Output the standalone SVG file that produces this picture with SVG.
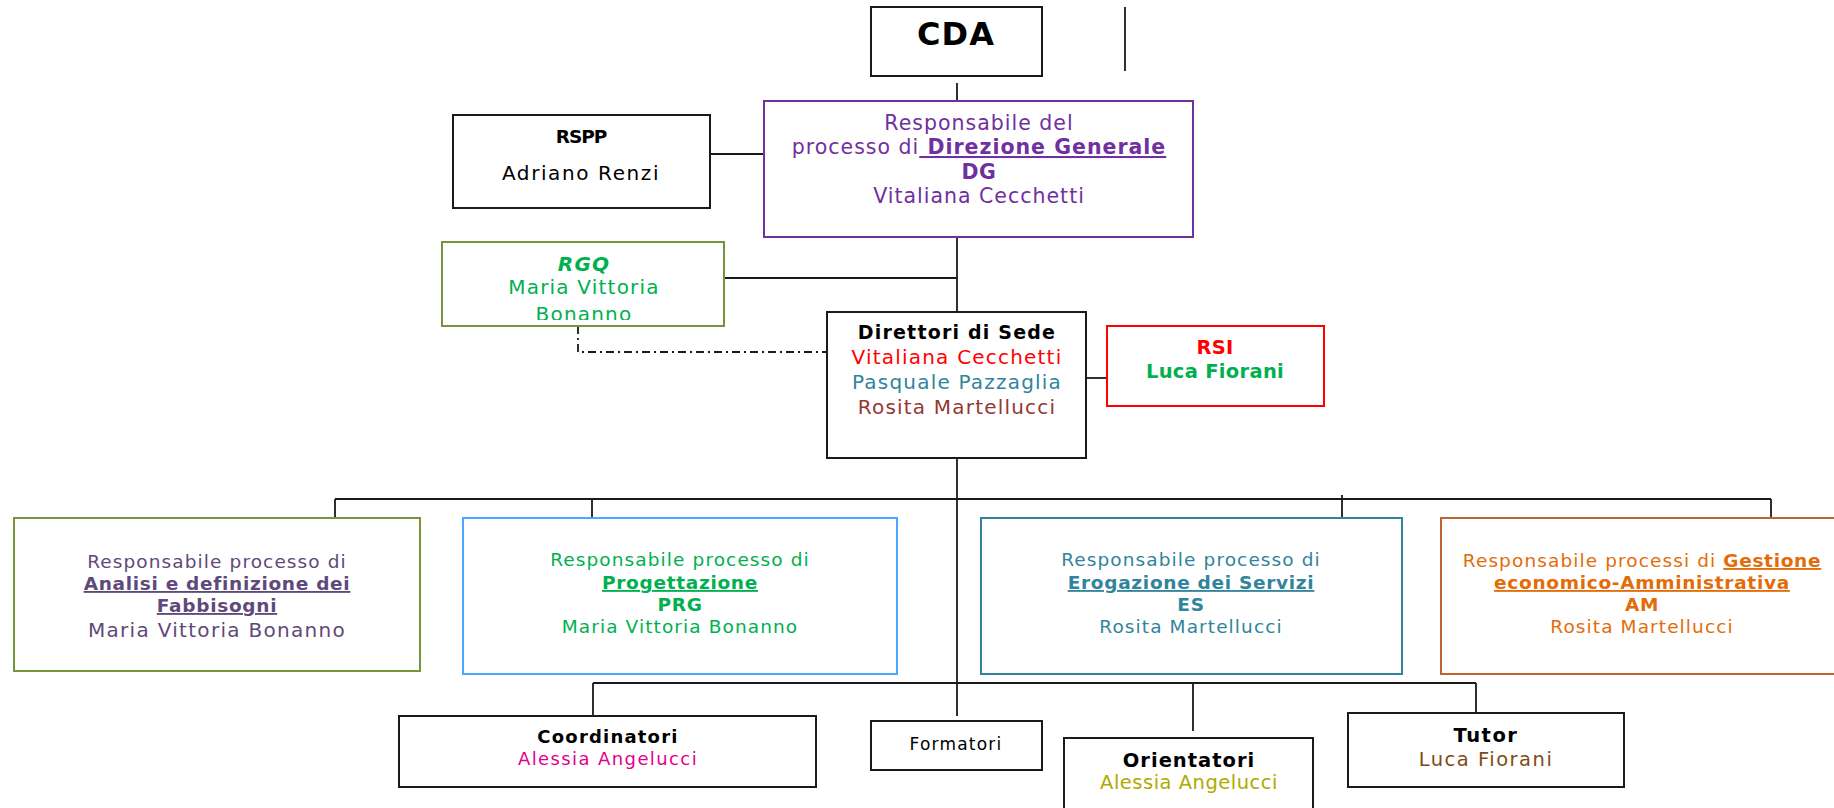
<svg xmlns="http://www.w3.org/2000/svg" width="1834" height="808" viewBox="0 0 1834 808">
<style>
text{font-family:"DejaVu Sans","Liberation Sans",sans-serif;text-anchor:middle;}
.box{fill:#fff;stroke:#1a1a1a;stroke-width:2;}
.r{font-size:18.5px;letter-spacing:1.1px;}
.b{font-weight:bold;letter-spacing:0.7px;}
.u{text-decoration:underline;}
.con{fill:none;stroke:#1a1a1a;stroke-width:1.8;}
</style>
<defs>
<clipPath id="rgqclip"><rect x="442" y="242" width="282" height="78"/></clipPath>
</defs>
<g id="connectors">
<path class="con" d="M957,83V101"/>
<path class="con" d="M1125,7V71"/>
<path class="con" d="M710,154H764"/>
<path class="con" d="M957,236V312"/>
<path class="con" d="M724,278H957"/>
<path class="con" d="M578,326V352H827" stroke-dasharray="8 4 2 4" stroke-width="1.6"/>
<path class="con" d="M1086,378H1107"/>
<path class="con" d="M957,458V716"/>
<path class="con" d="M335,499H1771M335,499V518M592,499V518M1342,495V518M1771,499V518"/>
<path class="con" d="M593,683H1476M593,683V716M1193,683V731M1476,683V716"/>
</g>
<g id="cda">
<rect class="box" x="871" y="7" width="171" height="69"/>
<text x="956" y="45" style="font-size:32px;font-weight:bold;letter-spacing:1px">CDA</text>
</g>
<g id="rspp">
<rect class="box" x="453" y="115" width="257" height="93"/>
<text x="581" y="143" style="font-size:18.5px;font-weight:bold;letter-spacing:-1px">RSPP</text>
<text x="581" y="180" style="font-size:20px;letter-spacing:1.6px">Adriano Renzi</text>
</g>
<g id="dg" fill="#7030a0">
<rect x="764" y="101" width="429" height="136" fill="#fff" stroke="#7030a0" stroke-width="2"/>
<g style="font-size:20.5px;letter-spacing:1px">
<text x="979" y="130">Responsabile del</text>
<text x="979" y="154">processo di<tspan class="b u" style="letter-spacing:1px"> Direzione Generale</tspan></text>
<text x="979" y="179" class="b">DG</text>
<text x="979" y="203">Vitaliana Cecchetti</text>
</g>
</g>
<g id="rgq">
<rect x="442" y="242" width="282" height="84" fill="#fff" stroke="#77933c" stroke-width="2"/>
<g fill="#00b050" style="font-size:20px;letter-spacing:1.2px">
<text x="584" y="271" style="font-weight:bold;font-style:italic">RGQ</text>
<text x="584" y="294">Maria Vittoria</text>
<text x="584" y="321" clip-path="url(#rgqclip)">Bonanno</text>
</g>
</g>
<g id="direttori">
<rect class="box" x="827" y="312" width="259" height="146"/>
<g style="font-size:20px;letter-spacing:1.2px">
<text x="957" y="339" style="font-size:19px;font-weight:bold" fill="#000">Direttori di Sede</text>
<text x="957" y="364" fill="#ff0000">Vitaliana Cecchetti</text>
<text x="957" y="389" fill="#31849b">Pasquale Pazzaglia</text>
<text x="957" y="414" fill="#953734">Rosita Martellucci</text>
</g>
</g>
<g id="rsi">
<rect x="1107" y="326" width="217" height="80" fill="#fff" stroke="#ff0000" stroke-width="2"/>
<g style="font-size:19.5px;font-weight:bold;letter-spacing:0.3px">
<text x="1215" y="354" fill="#ff0000">RSI</text>
<text x="1215" y="378" fill="#00b050">Luca Fiorani</text>
</g>
</g>
<g id="analisi" fill="#5f497a">
<rect x="14" y="518" width="406" height="153" fill="#fff" stroke="#77933c" stroke-width="2"/>
<text x="217" y="568" class="r">Responsabile processo di</text>
<text x="217" y="590" class="r b u">Analisi e definizione dei</text>
<text x="217" y="612" class="r b u">Fabbisogni</text>
<text x="217" y="637" style="font-size:20px;letter-spacing:1.3px">Maria Vittoria Bonanno</text>
</g>
<g id="progettazione" fill="#00b050">
<rect x="463" y="518" width="434" height="156" fill="#fff" stroke="#4da6ff" stroke-width="2"/>
<text x="680" y="566" class="r">Responsabile processo di</text>
<text x="680" y="589" class="r b u">Progettazione</text>
<text x="680" y="611" class="r b">PRG</text>
<text x="680" y="633" class="r">Maria Vittoria Bonanno</text>
</g>
<g id="erogazione" fill="#31849b">
<rect x="981" y="518" width="421" height="156" fill="#fff" stroke="#31849b" stroke-width="2"/>
<text x="1191" y="566" class="r">Responsabile processo di</text>
<text x="1191" y="589" class="r b u">Erogazione dei Servizi</text>
<text x="1191" y="611" class="r b">ES</text>
<text x="1191" y="633" class="r">Rosita Martellucci</text>
</g>
<g id="gestione" fill="#e36c09">
<rect x="1441" y="518" width="420" height="156" fill="#fff" stroke="#c0652b" stroke-width="2"/>
<text x="1642" y="567" class="r">Responsabile processi di <tspan class="b u">Gestione</tspan></text>
<text x="1642" y="589" class="r b u">economico-Amministrativa</text>
<text x="1642" y="611" class="r b">AM</text>
<text x="1642" y="633" class="r">Rosita Martellucci</text>
</g>
<g id="coordinatori">
<rect class="box" x="399" y="716" width="417" height="71"/>
<text x="608" y="743" style="font-size:18px;font-weight:bold;letter-spacing:1.2px" fill="#000">Coordinatori</text>
<text x="608" y="765" style="font-size:18px;letter-spacing:1.4px" fill="#e3008c">Alessia Angelucci</text>
</g>
<g id="formatori">
<rect class="box" x="871" y="721" width="171" height="49"/>
<text x="956" y="750" style="font-size:17px;letter-spacing:1.2px" fill="#000">Formatori</text>
</g>
<g id="orientatori">
<rect class="box" x="1064" y="738" width="249" height="90"/>
<text x="1189" y="767" style="font-size:19.5px;font-weight:bold;letter-spacing:1px" fill="#000">Orientatori</text>
<text x="1189" y="789" style="font-size:19.5px;letter-spacing:0.5px" fill="#b0aa00">Alessia Angelucci</text>
</g>
<g id="tutor">
<rect class="box" x="1348" y="713" width="276" height="74"/>
<text x="1486" y="742" style="font-size:19.5px;font-weight:bold;letter-spacing:1.5px" fill="#000">Tutor</text>
<text x="1486" y="766" style="font-size:19.5px;letter-spacing:1.5px" fill="#7f4b14">Luca Fiorani</text>
</g>
</svg>
